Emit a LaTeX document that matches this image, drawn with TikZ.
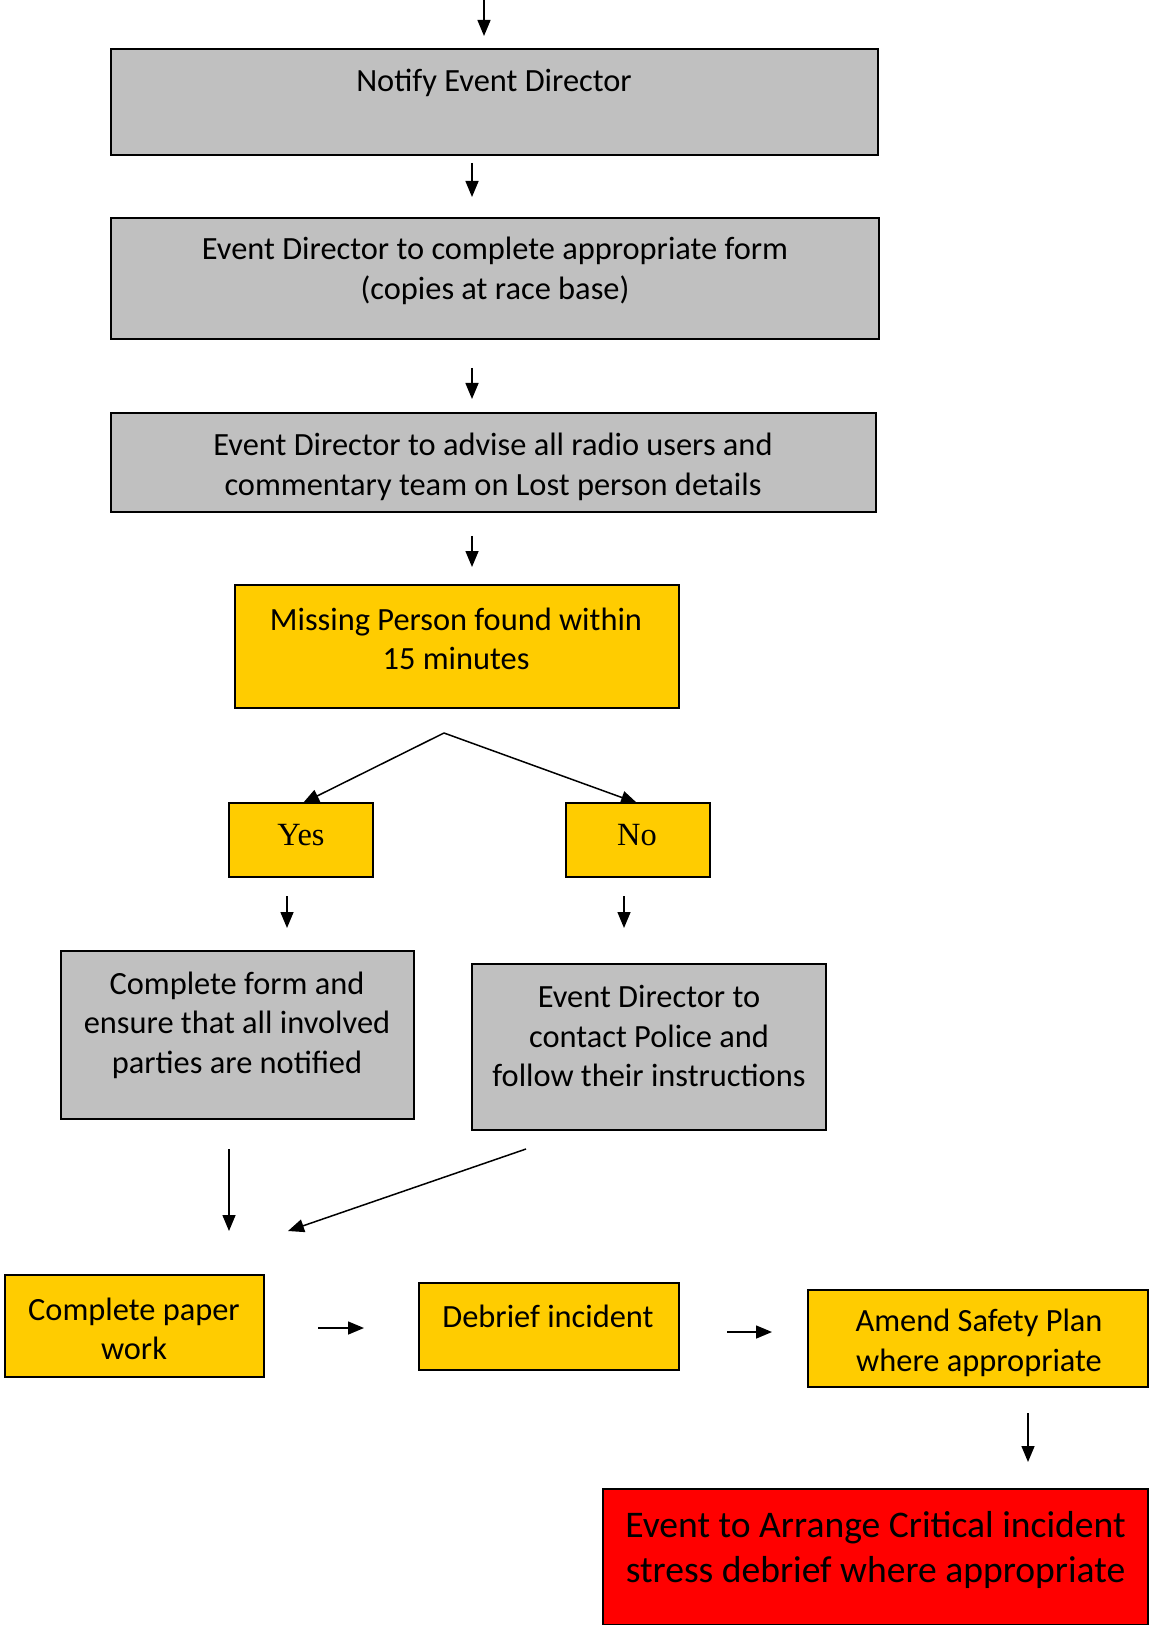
\documentclass[tikz,border=0pt]{standalone}
\usepackage{fontspec}
\setmainfont{Carlito}
\newfontfamily\ynfont{Liberation Serif}
\usetikzlibrary{arrows.meta,fit}
\definecolor{boxgrey}{HTML}{C0C0C0}
\definecolor{boxyellow}{HTML}{FFCC00}
\definecolor{boxred}{HTML}{FF0000}
\tikzset{
  box/.style={draw=black, line width=1pt, inner sep=0pt, rectangle},
  greybox/.style={box, fill=boxgrey},
  yellowbox/.style={box, fill=boxyellow},
  redbox/.style={box, fill=boxred},
  txt/.style={align=center, inner sep=0pt, font=\fontsize{16.2}{19.7}\selectfont},
  bigtxt/.style={align=center, inner sep=0pt, font=\fontsize{18.8}{22.8}\selectfont},
  yntxt/.style={inner sep=0pt, font=\ynfont\fontsize{16.2}{19}\selectfont},
  arr/.style={line width=0.75pt, -{Triangle[length=8pt,width=6.5pt]}},
}
\begin{document}
\begin{tikzpicture}[x=0.5pt,y=-0.5pt]
\useasboundingbox (0,0) rectangle (1149,1625);

% boxes
\node[greybox, fit={(111,49) (878,155)}] (notify) {};
\node[greybox, fit={(111,218) (879,339)}] (form) {};
\node[greybox, fit={(111,413) (876,512)}] (advise) {};
\node[yellowbox, fit={(235,585) (679,708)}] (missing) {};
\node[yellowbox, fit={(229,803) (373,877)}] (yes) {};
\node[yellowbox, fit={(566,803) (710,877)}] (no) {};
\node[greybox, fit={(61,951) (414,1119)}] (notified) {};
\node[greybox, fit={(472,964) (826,1130)}] (police) {};
\node[yellowbox, fit={(5,1275) (264,1377)}] (paper) {};
\node[yellowbox, fit={(419,1283) (679,1370)}] (debrief) {};
\node[yellowbox, fit={(808,1290) (1148,1387)}] (amend) {};
\node[redbox, fit={(603,1489) (1148,1625)}] (critical) {};

% texts
\node[txt] (tnotify) at (494,83) {Notify Event Director};
\node[txt] (tform) at (495,271) {Event Director to complete appropriate form\\(copies at race base)};
\node[txt] (tadvise) at (493,467) {Event Director to advise all radio users and\\commentary team on Lost person details};
\node[txt] (tmissing) at (456,639) {Missing Person found within\\15 minutes};
\node[yntxt] (tyes) at (301,835) {Yes};
\node[yntxt] (tno) at (637,835) {No};
\node[txt] (tnotified) at (237,1025) {Complete form and\\ensure that all involved\\parties are notified};
\node[txt] (tpolice) at (649,1036) {Event Director to\\contact Police and\\follow their instructions};
\node[txt] (tpaper) at (134,1329) {Complete paper\\work};
\node[txt] (tdebrief) at (548,1316) {Debrief incident};
\node[txt] (tamend) at (979,1343) {Amend Safety Plan\\where appropriate};
\node[bigtxt] (tcritical) at (875.5,1550) {Event to Arrange Critical incident\\stress debrief where appropriate};

% free arrow ends
\coordinate (a0s) at (484,0);    \coordinate (a0e) at (484,36);
\coordinate (a1s) at (472,163);  \coordinate (a1e) at (472,197);
\coordinate (a2s) at (472,368);  \coordinate (a2e) at (472,399);
\coordinate (a3s) at (472,536);  \coordinate (a3e) at (472,567);
\coordinate (split) at (444,733);
\coordinate (syes) at (303,803); \coordinate (sno) at (637,803);
\coordinate (a4s) at (287,896);  \coordinate (a4e) at (287,928);
\coordinate (a5s) at (624,896);  \coordinate (a5e) at (624,928);
\coordinate (a6s) at (229,1149); \coordinate (a6e) at (229,1231);
\coordinate (a7s) at (526,1149); \coordinate (a7e) at (288,1231);
\coordinate (a8s) at (318,1328); \coordinate (a8e) at (364,1328);
\coordinate (a9s) at (727,1332); \coordinate (a9e) at (772,1332);
\coordinate (a10s) at (1028,1413); \coordinate (a10e) at (1028,1462);

% connectors
\draw[arr] (a0s) -- (a0e);
\draw[arr] (a1s) -- (a1e);
\draw[arr] (a2s) -- (a2e);
\draw[arr] (a3s) -- (a3e);
\draw[arr] (split) -- (syes);
\draw[arr] (split) -- (sno);
\draw[arr] (a4s) -- (a4e);
\draw[arr] (a5s) -- (a5e);
\draw[arr] (a6s) -- (a6e);
\draw[arr] (a7s) -- (a7e);
\draw[arr] (a8s) -- (a8e);
\draw[arr] (a9s) -- (a9e);
\draw[arr] (a10s) -- (a10e);
\end{tikzpicture}
\end{document}
